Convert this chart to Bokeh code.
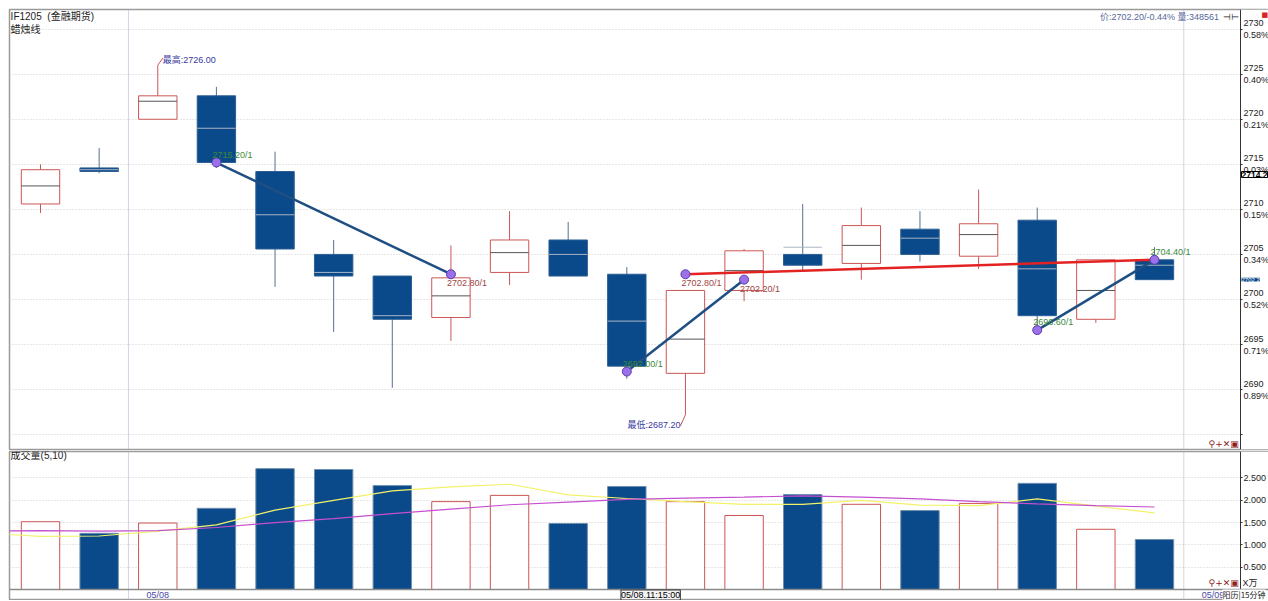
from bokeh.plotting import figure
from bokeh.layouts import column
from bokeh.models import Range1d, FixedTicker, Span, Label, ColumnDataSource, BoxAnnotation
from bokeh.core.properties import value
from bokeh.embed import file_html
from bokeh.resources import INLINE

# ---------------- data ----------------
bar_index = list(range(20))
opens  = [2710.6, 2714.6, 2720.0, 2722.6, 2714.2, 2705.0, 2702.6, 2698.0, 2703.0, 2706.6,
          2702.8, 2691.8, 2701.0, 2705.0, 2704.0, 2707.8, 2704.8, 2708.8, 2697.8, 2704.4]
closes = [2714.4, 2714.2, 2722.6, 2715.2, 2705.6, 2702.6, 2697.8, 2702.4, 2706.6, 2702.6,
          2692.6, 2701.0, 2705.4, 2703.8, 2708.2, 2705.0, 2708.4, 2698.2, 2704.4, 2702.2]
highs  = [2715.0, 2716.8, 2726.0, 2723.6, 2716.4, 2706.6, 2702.6, 2706.0, 2709.8, 2708.6,
          2703.6, 2701.0, 2705.6, 2710.6, 2710.2, 2709.8, 2712.2, 2710.2, 2704.4, 2705.8]
lows   = [2709.6, 2714.0, 2720.0, 2714.6, 2701.4, 2696.4, 2690.2, 2695.4, 2701.6, 2702.6,
          2691.2, 2687.2, 2699.8, 2703.2, 2702.2, 2704.2, 2703.4, 2696.6, 2697.4, 2702.2]
avg_px = [2712.6, 2714.4, 2722.0, 2719.0, 2709.4, 2703.0, 2698.2, 2700.4, 2705.2, 2705.0,
          2697.6, 2695.6, 2703.2, 2705.8, 2706.0, 2706.8, 2707.2, 2703.4, 2701.0, 2703.8]
volumes = [1.52, 1.26, 1.49, 1.82, 2.71, 2.69, 2.33, 1.97, 2.11, 1.48,
           2.31, 1.97, 1.66, 2.13, 1.91, 1.77, 1.93, 2.38, 1.35, 1.12]
ma_index = list(range(-1, 20))
ma5  = [1.27, 1.19, 1.20, 1.31, 1.45, 1.78, 2.00, 2.21, 2.30, 2.36, 2.12,
        2.04, 1.97, 1.91, 1.91, 2.00, 1.89, 1.88, 2.03, 1.87, 1.72]
ma10 = [1.31, 1.32, 1.31, 1.32, 1.39, 1.50, 1.59, 1.70, 1.80, 1.90, 1.96,
        2.02, 2.05, 2.07, 2.10, 2.07, 2.03, 1.97, 1.92, 1.88, 1.85]

trend_x0 = [3, 10, 11, 17]
trend_y0 = [2715.2, 2692.0, 2702.8, 2696.6]
trend_x1 = [7, 12, 19, 19]
trend_y1 = [2702.8, 2702.2, 2704.4, 2704.4]
trend_kind = ["down", "down", "up", "down"]

mark_x = [3, 7, 10, 11, 12, 17, 19]
mark_y = [2715.2, 2702.8, 2692.0, 2702.8, 2702.2, 2696.6, 2704.4]
mark_text = ["2715.20/1", "2702.80/1", "2692.00/1", "2702.80/1", "2702.20/1", "2696.60/1", "2704.40/1"]
mark_above = [True, False, True, False, False, True, True]

price_ticks = [2685, 2690, 2695, 2700, 2705, 2710, 2715, 2720, 2725, 2730]
price_pct   = ["", "0.89%", "0.71%", "0.52%", "0.34%", "0.15%", "0.03%", "0.21%", "0.40%", "0.58%"]
vol_ticks  = [0.5, 1.0, 1.5, 2.0, 2.5]
vol_labels = ["0.500", "1.000", "1.500", "2.000", "2.500"]
vol_unit = "X万"
date_ticks  = [2, 20]
date_labels = ["05/08", "05/09"]
day_breaks = [1.5, 19.5]
cursor_idx, cursor_text = 10, "05/08.11:15:00"

hi_idx, hi_val = 2, 2726.00
lo_idx, lo_val = 11, 2687.20
last_price, prev_close = 2702.2, 2714.2

# ---------------- styles ----------------
RED = "#cc5555"
NAVY = "#0b4a8a"
NAVY_EDGE = "#2c5f95"
BLUE_WICK = "#56708f"
NUMF = "'Liberation Sans', 'Noto Sans CJK SC', sans-serif"
CJKF = "'Noto Sans CJK SC', sans-serif"
GRID = "#cfcfcf"
BW = 0.655

W, H1, H2 = 1268, 450, 150
PX_X = 58.63
X0 = -0.529
XR = Range1d(X0, X0 + (W - 9) / PX_X)
AX_X = X0 + (1240 - 9) / PX_X          # where the price/volume axis sits
px_y = 440 / (2732.18 - 2683.35)


def base_fig(h, yr, mbt, mbb):
    p = figure(width=W, height=h, x_range=XR, y_range=yr, output_backend="svg",
               toolbar_location=None, y_axis_location="right", x_axis_location=None,
               min_border_left=9, min_border_right=0, min_border_top=mbt, min_border_bottom=mbb,
               background_fill_color="white", border_fill_color="white",
               outline_line_color="#9a9a9a", outline_line_width=1.5)
    p.xgrid.visible = False
    p.ygrid.grid_line_color = GRID
    p.ygrid.grid_line_dash = "1 2"
    ax = p.yaxis[0]
    ax.fixed_location = AX_X
    ax.axis_line_color = "#333333"
    ax.major_tick_line_color = "#333333"
    ax.major_tick_out = 2
    ax.major_tick_in = 0
    ax.minor_tick_line_color = None
    ax.major_label_standoff = 1
    ax.major_label_text_font = NUMF
    ax.major_label_text_font_size = "9px"
    ax.major_label_text_color = "#222222"
    # blank the axis strip so that grid lines stop at the axis
    p.add_layout(BoxAnnotation(left=AX_X, fill_color="white", fill_alpha=1.0,
                               line_color=None, level="underlay"))
    for b in day_breaks:
        p.add_layout(Span(location=b, dimension="height", line_color="#a6a8c8",
                          line_dash="1 1", line_width=1))
    return p


# ---------------- price panel ----------------
p1 = base_fig(H1, Range1d(2683.35, 2732.18), 9, 1)
p1.yaxis[0].ticker = FixedTicker(ticks=price_ticks)
p1.yaxis[0].major_label_overrides = {t: (f"{t}\n{pc}" if pc else "") for t, pc in zip(price_ticks, price_pct)}

up = [c >= o for o, c in zip(opens, closes)]
src = ColumnDataSource(dict(
    x=bar_index,
    top=[max(o, c) for o, c in zip(opens, closes)],
    bottom=[min(o, c) for o, c in zip(opens, closes)],
    high=highs, low=lows, mid=avg_px,
    mx0=[i - BW / 2 for i in bar_index], mx1=[i + BW / 2 for i in bar_index],
    fill=["white" if u else NAVY for u in up],
    line=[RED if u else NAVY_EDGE for u in up],
    wick=[RED if u else BLUE_WICK for u in up],
    midc=["#555555" if u else "#a9b4c4" for u in up],
))
p1.segment(x0="x", y0="high", x1="x", y1="low", line_color="wick", line_width=1, source=src)
p1.vbar(x="x", top="top", bottom="bottom", width=BW, fill_color="fill", line_color="line",
        line_width=1, source=src)
p1.segment(x0="mx0", y0="mid", x1="mx1", y1="mid", line_color="midc", line_width=1, source=src)

tcol = {"down": "#1f4f82", "up": "#e32222"}
p1.segment(x0=trend_x0, y0=trend_y0, x1=trend_x1, y1=trend_y1,
           line_color=[tcol[k] for k in trend_kind], line_width=2.5)
p1.scatter(x=mark_x, y=mark_y, size=9, fill_color="#9b70e8", line_color="#5a3cb0", line_width=1)
p1.text(x=mark_x, y=mark_y, text=mark_text,
        text_color=["#3b8a3b" if a else "#a04545" for a in mark_above],
        x_offset=-4, y_offset=[-8 if a else 9 for a in mark_above],
        text_font=value(NUMF), text_font_size=value("9px"), text_baseline="middle", text_align="left")

# high / low markers
p1.segment(x0=[hi_idx, lo_idx], y0=[hi_val, lo_val],
           x1=[hi_idx + 5 / PX_X, lo_idx - 5 / PX_X], y1=[hi_val + 7 / px_y, lo_val - 11 / px_y],
           line_color=["#cc5555", "#cc5555"], line_width=1)
p1.text(x=[hi_idx, lo_idx], y=[hi_val, lo_val], text=[f"最高:{hi_val:.2f}", f"最低:{lo_val:.2f}"],
        x_offset=[5, -5], y_offset=[-5, 10], text_align=["left", "right"], text_baseline="middle",
        text_color="#3a3aa0", text_font=value(NUMF), text_font_size=value("9px"))

# panel texts
p1.add_layout(Label(x=-0.51, y=2731.4, text="IF1205\u00a0\u00a0(金融期货)", text_font=NUMF,
                    text_font_size="10px", text_color="#222222", text_baseline="middle"))
p1.add_layout(Label(x=-0.51, y=2730.1, text="蜡烛线", text_font=CJKF,
                    text_font_size="10px", text_color="#222222", text_baseline="middle"))
p1.add_layout(Label(x=20.10, y=2731.3, text=f"价:{last_price:.2f}/-0.44% 量:348561", text_font=NUMF,
                    text_font_size="9px", text_color="#56679a", text_baseline="middle", text_align="right"))
p1.add_layout(Label(x=20.17, y=2731.3, text="⊣⊢", text_font="DejaVu Sans",
                    text_font_size="9px", text_color="#222222", text_baseline="middle"))
p1.add_layout(Label(x=AX_X - 0.03, y=2684.0, text="⚲+✕▣", text_font="DejaVu Sans",
                    text_font_size="9px", text_color="#8a2020", text_baseline="middle", text_align="right"))
# right axis markers
p1.add_layout(Label(x=AX_X + 1.0 / PX_X, y=prev_close, text=f"{prev_close:.1f}", text_font=NUMF,
                    text_font_size="8.5px", text_font_style="bold", text_color="#000000",
                    text_baseline="top", background_fill_color="white", border_line_color="#000000"))
p1.add_layout(Label(x=AX_X + 1.0 / PX_X, y=last_price, text=f"{last_price:.1f}", text_font=NUMF,
                    text_font_size="6px", text_color="white", text_baseline="middle",
                    background_fill_color=NAVY))
p1.add_layout(Label(x=AX_X + 21 / PX_X, y=2731.6, text="■", text_font="DejaVu Sans",
                    text_font_size="7px", text_color="#dd2222", text_baseline="middle"))

# ---------------- volume panel ----------------
vol_bottom = -11 / 44.6
p2 = base_fig(H2, Range1d(vol_bottom, 3.094), 1, 0)
p2.yaxis[0].ticker = FixedTicker(ticks=vol_ticks)
p2.yaxis[0].major_label_overrides = {t: l for t, l in zip(vol_ticks, vol_labels)}
p2.add_layout(Span(location=0, dimension="width", line_color="#8a8a8a", line_width=1.5))

vsrc = ColumnDataSource(dict(
    x=bar_index, v=volumes,
    fill=["white" if u else NAVY for u in up],
    line=[RED if u else "#6f8fae" for u in up],
))
p2.vbar(x="x", top="v", bottom=0, width=BW, fill_color="fill", line_color="line", line_width=1, source=vsrc)
p2.line(ma_index, ma5, line_color="#f2f26a", line_width=1.2)
p2.line(ma_index, ma10, line_color="#c64fd0", line_width=1.2)

row_y = vol_bottom / 2
p2.text(x=date_ticks, y=[row_y] * len(date_ticks), text=date_labels, text_align="center",
        text_baseline="middle", text_color="#4848a8", text_font=value(NUMF), text_font_size=value("9px"))
p2.add_layout(Label(x=-0.51, y=3.0, text="成交量(5,10)", text_font=NUMF,
                    text_font_size="10px", text_color="#222222", text_baseline="middle"))
p2.add_layout(Label(x=AX_X - 0.03, y=0.14, text="⚲+✕▣", text_font="DejaVu Sans",
                    text_font_size="9px", text_color="#8a2020", text_baseline="middle", text_align="right"))
p2.add_layout(Label(x=AX_X + 2.0 / PX_X, y=0.14, text=vol_unit, text_font=NUMF,
                    text_font_size="9px", text_color="#222222", text_baseline="middle"))
p2.add_layout(Label(x=cursor_idx - 0.1, y=row_y, text=cursor_text, text_font=NUMF, text_font_size="9px",
                    text_color="#000000", text_baseline="middle", background_fill_color="#f4f4f4",
                    border_line_color="#333333"))
p2.add_layout(Label(x=20.16, y=row_y, text="阳历|15分钟", text_font=CJKF, text_font_size="8px",
                    text_color="#222222", text_baseline="middle", background_fill_color="white"))

layout = column(p1, p2, spacing=0)
with open("out.html", "w") as f:
    f.write(file_html(layout, INLINE))
